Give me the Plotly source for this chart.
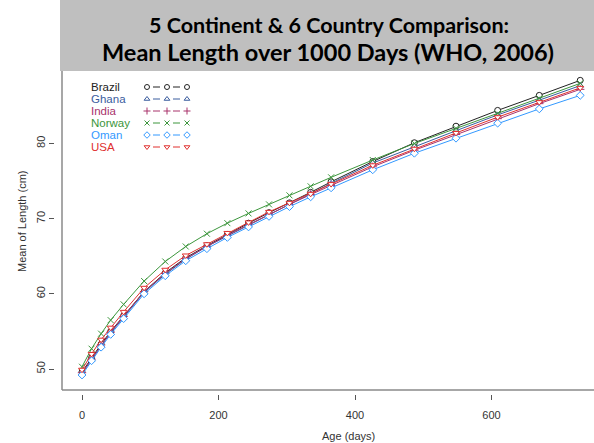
import plotly.graph_objects as go

# ---- data ----
age_days = [0, 14, 28, 42, 61, 91, 122, 152, 183, 213, 244, 274, 304, 335, 365,
            426, 487, 548, 609, 670, 730]

brazil = [49.6, 51.5, 53.3, 55.0, 57.1, 60.3, 62.8, 64.8, 66.4, 67.9, 69.4, 70.8,
          72.1, 73.5, 74.9, 77.6, 80.1, 82.3, 84.4, 86.4, 88.4]
ghana = [49.4, 51.3, 53.1, 54.8, 56.9, 60.2, 62.6, 64.6, 66.3, 67.7, 69.2, 70.6,
         71.9, 73.3, 74.7, 77.4, 79.6, 81.7, 83.8, 85.8, 87.7]
india = [49.5, 51.3, 53.2, 54.9, 57.0, 60.3, 62.7, 64.7, 66.3, 67.8, 69.2, 70.6,
         71.9, 73.2, 74.4, 76.9, 79.1, 81.2, 83.3, 85.3, 87.2]
norway = [50.3, 52.7, 54.7, 56.5, 58.6, 61.7, 64.3, 66.3, 68.0, 69.4, 70.7, 71.9,
          73.1, 74.3, 75.5, 77.8, 80.0, 82.0, 84.0, 86.0, 88.0]
oman = [49.2, 51.1, 52.9, 54.6, 56.7, 60.0, 62.4, 64.4, 66.0, 67.5, 68.9, 70.3,
        71.6, 72.9, 74.1, 76.5, 78.7, 80.7, 82.7, 84.6, 86.4]
usa = [49.9, 52.0, 53.9, 55.5, 57.6, 60.8, 63.2, 65.1, 66.6, 68.1, 69.5, 70.9,
       72.1, 73.3, 74.6, 77.1, 79.3, 81.4, 83.5, 85.5, 87.4]

countries = ["Brazil", "Ghana", "India", "Norway", "Oman", "USA"]
values = [brazil, ghana, india, norway, oman, usa]
colors = ["#222222", "#3A5C9E", "#A8336B", "#3C963C", "#3399FF", "#E0302F"]
symbols = ["circle", "triangle-up", "cross-thin", "x-thin", "diamond", "triangle-down"]

x_ticks = [0, 200, 400, 600]
y_ticks = [50, 60, 70, 80]

# ---- layout geometry (pixels) ----
W, H = 594, 443
L, R, T, B = 55, 0, 60, 49
PW, PH = W - L - R, H - T - B


def px(xp):
    return (xp - L) / PW


def py(yp):
    return (H - B - yp) / PH


FILLED = ("circle", "triangle-up", "diamond", "triangle-down")


def marker_for(sym, col, size):
    if sym in FILLED:
        return dict(symbol=sym, size=size, color="white", line=dict(color=col, width=1))
    return dict(symbol=sym, size=size, color=col, line=dict(color=col, width=1))


fig = go.Figure()

for name, vals, col, sym in zip(countries, values, colors, symbols):
    fig.add_trace(go.Scatter(
        x=age_days, y=vals, mode="lines+markers", name=name,
        line=dict(color=col, width=1),
        marker=marker_for(sym, col, 6),
        showlegend=False,
    ))

# ---- custom legend (text then "o - o - o") on a pixel overlay axis ----
leg_y0, leg_dy = 87, 12
for i, (name, col, sym) in enumerate(zip(countries, colors, symbols)):
    yy = leg_y0 + i * leg_dy
    fig.add_trace(go.Scatter(
        x=[153, 160, None, 173, 180], y=[yy, yy, None, yy, yy], mode="lines",
        line=dict(color=col, width=1), xaxis="x2", yaxis="y2",
        showlegend=False, hoverinfo="skip"))
    fig.add_trace(go.Scatter(
        x=[147, 167, 187], y=[yy, yy, yy], mode="markers",
        marker=marker_for(sym, col, 5),
        xaxis="x2", yaxis="y2", showlegend=False, hoverinfo="skip"))
    fig.add_annotation(x=px(89), y=py(yy), xref="paper", yref="paper",
                       text=name, showarrow=False, xanchor="left",
                       yanchor="middle",
                       font=dict(family="Liberation Sans, Arial", size=11.5, color=col))

# ---- axes lines (L-shaped box, detached from ticks) ----
fig.add_shape(type="line", xref="paper", yref="paper",
              x0=px(62), x1=px(62), y0=py(390), y1=py(40),
              line=dict(color="#8A8A8A", width=1.5))
fig.add_shape(type="line", xref="paper", yref="paper",
              x0=px(62), x1=px(600), y0=py(390), y1=py(390),
              line=dict(color="#8A8A8A", width=1.5))

# ---- title banner ----
fig.add_shape(type="rect", xref="paper", yref="paper",
              x0=px(60), x1=px(600), y0=py(71), y1=py(-5),
              fillcolor="#BFBFBF", line=dict(width=0), layer="above")
fig.add_annotation(x=px(329), y=py(25), xref="paper", yref="paper",
                   text="<b>5 Continent &amp; 6 Country Comparison:</b>",
                   showarrow=False, xanchor="center", yanchor="middle",
                   font=dict(family="Lato", size=21.5, color="#000000"))
fig.add_annotation(x=px(328), y=py(52), xref="paper", yref="paper",
                   text="<b>Mean Length over 1000 Days (WHO, 2006)</b>",
                   showarrow=False, xanchor="center", yanchor="middle",
                   font=dict(family="Lato", size=23.5, color="#000000"))

# axis titles
fig.add_annotation(x=px(348), y=py(436), xref="paper", yref="paper",
                   text="Age (days)", showarrow=False, xanchor="center",
                   yanchor="middle",
                   font=dict(family="Liberation Sans, Arial", size=11, color="#333333"))
fig.add_annotation(x=px(22), y=py(221), xref="paper", yref="paper",
                   text="Mean of Length (cm)", showarrow=False, textangle=-90,
                   xanchor="center", yanchor="middle",
                   font=dict(family="Liberation Sans, Arial", size=11, color="#333333"))

x0_px, x_scale = 82.0, 0.6825
y50_px, y_scale = 369.0, 7.517

fig.update_layout(
    width=W, height=H,
    margin=dict(l=L, r=R, t=T, b=B, autoexpand=False),
    paper_bgcolor="white", plot_bgcolor="white",
    xaxis=dict(
        range=[(L - x0_px) / x_scale, (W - R - x0_px) / x_scale],
        tickvals=x_ticks, ticktext=[str(v) for v in x_ticks],
        ticks="outside", ticklen=5, tickcolor="#555555", tickwidth=1,
        showgrid=False, zeroline=False, showline=False, automargin=False,
        tickfont=dict(family="Liberation Sans, Arial", size=11, color="#333333"),
        ticklabelstandoff=6,
    ),
    yaxis=dict(
        range=[50 - (H - B - y50_px) / y_scale, 50 + (y50_px - T) / y_scale],
        tickvals=y_ticks, ticktext=[str(v) for v in y_ticks],
        ticks="outside", ticklen=5, tickcolor="#555555", tickwidth=1,
        tickangle=-90, automargin=False,
        showgrid=False, zeroline=False, showline=False,
        tickfont=dict(family="Liberation Sans, Arial", size=11, color="#333333"),
    ),
    xaxis2=dict(overlaying="x", range=[L, W - R], visible=False),
    yaxis2=dict(overlaying="y", range=[H - B, T], visible=False),
    showlegend=False,
)

fig.write_html("out.html", config={"displayModeBar": False},
               post_script="document.body.style.margin='0';document.body.style.overflow='hidden';")
